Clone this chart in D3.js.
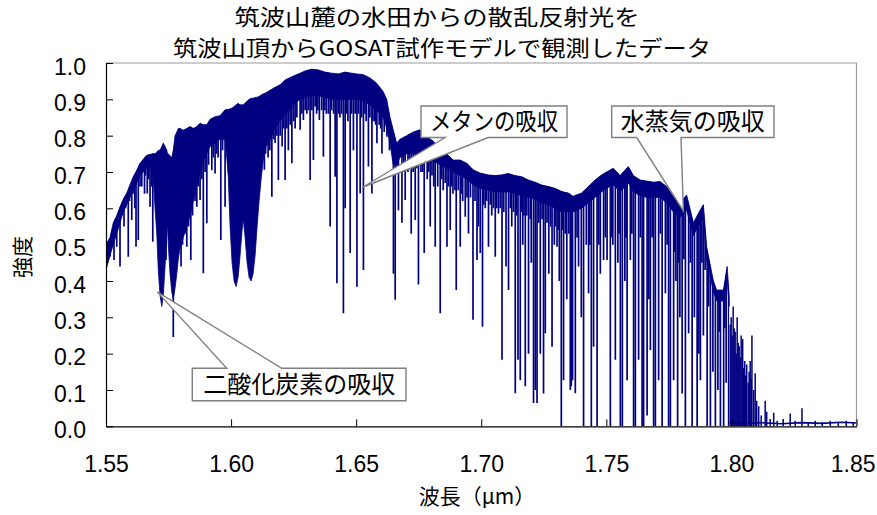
<!DOCTYPE html>
<html>
<head>
<meta charset="utf-8">
<script src="https://cdn.jsdelivr.net/npm/d3@7"></script>
<style>
  body { margin: 0; background: #fff; }
  svg { display: block; }
  .num { font-family: "Liberation Sans", Arial, sans-serif; }
  .jp { font-family: "Noto Sans CJK JP", "Noto Sans CJK SC", sans-serif; }
</style>
</head>
<body>
<svg id="chart" width="877" height="515"></svg>
<script>
// ---------- data ----------
const xTicks = [1.55, 1.60, 1.65, 1.70, 1.75, 1.80, 1.85];
const yTicks = [0, 0.1, 0.2, 0.3, 0.4, 0.5, 0.6, 0.7, 0.8, 0.9, 1.0];

// upper envelope of the spectrum and the lower edge of its dense band: [wavelength µm, top, band bottom]
const envelope = [
  [1.5500,0.500,0.43],[1.5516,0.520,0.47],[1.5529,0.560,0.50],[1.5543,0.580,0.53],
  [1.5556,0.604,0.56],[1.5569,0.625,0.59],[1.5583,0.642,0.61],[1.5596,0.665,0.63],
  [1.5609,0.687,0.65],[1.5623,0.705,0.67],[1.5636,0.724,0.69],[1.5649,0.735,0.70],
  [1.5663,0.746,0.71],[1.5676,0.748,0.72],[1.5689,0.751,0.69],[1.5696,0.750,0.60],
  [1.5703,0.755,0.53],[1.5709,0.760,0.43],[1.5716,0.760,0.36],[1.5723,0.770,0.33],
  [1.5729,0.780,0.36],[1.5736,0.770,0.44],[1.5743,0.760,0.52],[1.5746,0.750,0.56],
  [1.5749,0.750,0.50],[1.5756,0.745,0.42],[1.5763,0.740,0.37],[1.5769,0.760,0.35],
  [1.5776,0.800,0.38],[1.5783,0.810,0.42],[1.5789,0.820,0.46],[1.5796,0.820,0.49],
  [1.5809,0.815,0.52],[1.5823,0.820,0.55],[1.5836,0.825,0.58],[1.5849,0.820,0.62],
  [1.5863,0.825,0.66],[1.5876,0.834,0.70],[1.5889,0.830,0.73],[1.5903,0.830,0.75],
  [1.5916,0.845,0.77],[1.5936,0.852,0.78],[1.5956,0.855,0.79],[1.5976,0.871,0.79],
  [1.5988,0.872,0.70],[1.5996,0.874,0.55],[1.6004,0.876,0.45],[1.6012,0.880,0.40],
  [1.6020,0.885,0.385],[1.6028,0.889,0.41],[1.6036,0.885,0.47],[1.6044,0.885,0.54],
  [1.6049,0.885,0.57],[1.6056,0.890,0.52],[1.6064,0.895,0.45],[1.6072,0.900,0.41],
  [1.6080,0.903,0.40],[1.6088,0.903,0.42],[1.6096,0.905,0.47],[1.6104,0.906,0.55],
  [1.6112,0.908,0.62],[1.6120,0.912,0.68],[1.6128,0.915,0.73],[1.6140,0.918,0.77],
  [1.6156,0.925,0.79],[1.6176,0.933,0.82],[1.6196,0.940,0.84],[1.6216,0.953,0.86],
  [1.6236,0.960,0.87],[1.6256,0.966,0.89],[1.6276,0.972,0.90],[1.6296,0.978,0.905],
  [1.6322,0.983,0.91],[1.6349,0.981,0.91],[1.6375,0.975,0.905],[1.6402,0.972,0.90],
  [1.6429,0.970,0.90],[1.6455,0.975,0.90],[1.6482,0.972,0.90],[1.6502,0.970,0.90],
  [1.6528,0.968,0.895],[1.6555,0.959,0.885],[1.6582,0.944,0.87],[1.6608,0.921,0.85],
  [1.6622,0.900,0.82],[1.6635,0.852,0.78],[1.6648,0.816,0.72],[1.6662,0.779,0.72],
  [1.6675,0.790,0.74],[1.6702,0.800,0.75],[1.6728,0.810,0.75],[1.6755,0.816,0.75],
  [1.6782,0.797,0.74],[1.6808,0.785,0.73],[1.6835,0.760,0.72],[1.6862,0.750,0.71],
  [1.6888,0.733,0.70],[1.6915,0.733,0.69],[1.6942,0.724,0.68],[1.6968,0.706,0.665],
  [1.6995,0.697,0.655],[1.7028,0.692,0.65],[1.7055,0.690,0.645],[1.7082,0.692,0.645],
  [1.7108,0.696,0.645],[1.7135,0.690,0.64],[1.7162,0.687,0.635],[1.7188,0.678,0.63],
  [1.7215,0.672,0.625],[1.7242,0.664,0.615],[1.7268,0.660,0.61],[1.7295,0.655,0.60],
  [1.7322,0.646,0.59],[1.7348,0.642,0.59],[1.7367,0.633,0.59],[1.7401,0.642,0.60],
  [1.7428,0.660,0.615],[1.7455,0.678,0.63],[1.7481,0.692,0.645],[1.7501,0.700,0.655],
  [1.7528,0.710,0.665],[1.7555,0.690,0.645],[1.7588,0.715,0.67],[1.7608,0.690,0.645],
  [1.7635,0.678,0.635],[1.7661,0.675,0.63],[1.7688,0.672,0.63],[1.7714,0.674,0.63],
  [1.7741,0.660,0.615],[1.7768,0.632,0.59],[1.7794,0.614,0.575],[1.7821,0.637,0.595],
  [1.7848,0.560,0.525],[1.7875,0.595,0.56],[1.7888,0.610,0.575],[1.7901,0.494,0.46],
  [1.7928,0.400,0.37],[1.7941,0.375,0.345],[1.7968,0.375,0.345],[1.7983,0.440,0.40],
  [1.7991,0.360,0.33]
];

// individual absorption lines: [wavelength µm, minimum intensity]
const absorptionLines = [
  // 1.55 – 1.57
  [1.5505,0.458],[1.5511,0.500],[1.5516,0.467],[1.5522,0.520],[1.5532,0.458],[1.5537,0.540],
  [1.5543,0.494],[1.5549,0.550],[1.5556,0.440],[1.5562,0.580],[1.5572,0.550],[1.5578,0.600],
  [1.5589,0.467],[1.5594,0.620],[1.5603,0.568],[1.5608,0.640],[1.5615,0.600],[1.5620,0.494],
  [1.5629,0.513],[1.5636,0.660],[1.5643,0.660],[1.5654,0.640],[1.5658,0.690],[1.5665,0.641],
  [1.5671,0.680],[1.5676,0.604],[1.5682,0.660],[1.5687,0.508],
  // 1.57 – 1.60 (CO2)
  [1.5740,0.458],[1.5769,0.246],[1.5800,0.440],[1.5806,0.500],[1.5816,0.530],[1.5823,0.494],
  [1.5830,0.550],[1.5839,0.458],[1.5846,0.580],[1.5856,0.620],[1.5863,0.604],[1.5870,0.660],
  [1.5876,0.623],[1.5883,0.680],[1.5889,0.421],[1.5896,0.700],[1.5903,0.559],[1.5910,0.720],
  [1.5923,0.705],[1.5929,0.740],[1.5936,0.696],[1.5942,0.750],[1.5948,0.740],[1.5959,0.513],
  [1.5966,0.760],[1.5976,0.604],[1.5982,0.760],[1.5989,0.696],
  // 1.61 – 1.665
  [1.6133,0.706],[1.6138,0.750],[1.6148,0.740],[1.6155,0.760],[1.6163,0.632],[1.6170,0.790],
  [1.6176,0.780],[1.6183,0.800],[1.6189,0.678],[1.6196,0.800],[1.6204,0.770],[1.6210,0.820],
  [1.6216,0.678],[1.6223,0.820],[1.6229,0.760],[1.6236,0.830],[1.6243,0.724],[1.6250,0.840],
  [1.6256,0.820],[1.6263,0.850],[1.6276,0.816],[1.6283,0.860],[1.6289,0.843],[1.6296,0.870],
  [1.6303,0.860],[1.6310,0.870],[1.6316,0.678],[1.6323,0.870],[1.6329,0.733],[1.6336,0.880],
  [1.6342,0.860],[1.6347,0.870],[1.6353,0.843],[1.6362,0.870],[1.6369,0.742],[1.6375,0.870],
  [1.6381,0.860],[1.6389,0.860],[1.6396,0.550],[1.6402,0.870],[1.6410,0.860],[1.6416,0.687],
  [1.6423,0.394],[1.6429,0.860],[1.6435,0.850],[1.6442,0.860],[1.6449,0.311],[1.6456,0.600],
  [1.6462,0.860],[1.6467,0.840],[1.6476,0.477],[1.6482,0.860],[1.6489,0.760],[1.6496,0.860],
  [1.6503,0.384],[1.6509,0.860],[1.6516,0.641],[1.6522,0.850],[1.6529,0.430],[1.6535,0.860],
  [1.6540,0.840],[1.6549,0.715],[1.6555,0.850],[1.6563,0.641],[1.6566,0.840],[1.6572,0.840],
  [1.6578,0.830],[1.6583,0.779],[1.6592,0.830],[1.6598,0.820],[1.6603,0.751],[1.6612,0.810],
  [1.6623,0.797],[1.6633,0.760],[1.6649,0.420],[1.6656,0.348],
  // 1.665 – 1.735 (CH4)
  [1.6663,0.700],[1.6669,0.595],[1.6683,0.560],[1.6690,0.700],[1.6696,0.623],[1.6707,0.700],
  [1.6713,0.710],[1.6720,0.530],[1.6728,0.700],[1.6736,0.568],[1.6742,0.710],[1.6749,0.390],
  [1.6759,0.700],[1.6766,0.700],[1.6772,0.477],[1.6784,0.680],[1.6790,0.700],[1.6796,0.550],
  [1.6803,0.690],[1.6810,0.660],[1.6816,0.494],[1.6826,0.660],[1.6836,0.311],[1.6842,0.680],
  [1.6848,0.650],[1.6856,0.670],[1.6863,0.494],[1.6869,0.660],[1.6876,0.540],[1.6882,0.660],
  [1.6887,0.640],[1.6895,0.650],[1.6900,0.375],[1.6908,0.650],[1.6916,0.494],[1.6922,0.640],
  [1.6926,0.620],[1.6936,0.577],[1.6943,0.630],[1.6949,0.531],[1.6957,0.630],[1.6967,0.293],
  [1.6975,0.620],[1.6983,0.458],[1.6989,0.550],[1.6996,0.477],[1.7005,0.274],[1.7010,0.610],
  [1.7016,0.600],[1.7022,0.620],[1.7029,0.494],[1.7036,0.610],[1.7042,0.580],[1.7049,0.600],
  [1.7056,0.467],[1.7062,0.600],[1.7069,0.586],[1.7076,0.600],[1.7083,0.183],[1.7090,0.590],
  [1.7099,0.440],[1.7109,0.375],[1.7116,0.600],[1.7122,0.550],[1.7129,0.590],[1.7136,0.091],
  [1.7142,0.580],[1.7147,0.183],[1.7156,0.127],[1.7161,0.590],[1.7166,0.500],[1.7171,0.580],
  [1.7176,0.110],[1.7182,0.580],[1.7189,0.200],[1.7196,0.570],[1.7200,0.450],[1.7209,0.064],
  [1.7216,0.100],[1.7223,0.064],[1.7230,0.560],[1.7236,0.200],[1.7243,0.570],[1.7249,0.090],
  [1.7256,0.256],[1.7263,0.560],[1.7270,0.420],[1.7277,0.550],[1.7283,0.219],[1.7292,0.500],
  [1.7297,0.550],[1.7303,0.494],[1.7307,0.540],[1.7312,0.400],[1.7320,0.000],[1.7326,0.540],
  [1.7329,0.127],[1.7336,0.530],[1.7342,0.350],[1.7350,0.530],
  // 1.735 – 1.80 (H2O)
  [1.7356,0.100],[1.7360,0.110],[1.7365,0.127],[1.7376,0.091],[1.7383,0.520],[1.7389,0.440],
  [1.7400,0.300],[1.7409,0.000],[1.7420,0.500],[1.7429,0.366],
  [1.7434,0.500],[1.7440,0.000],[1.7449,0.219],[1.7463,0.000],[1.7470,0.500],
  [1.7476,0.420],[1.7489,0.458],[1.7496,0.520],[1.7503,0.458],
  [1.7516,0.000],[1.7521,0.520],[1.7526,0.500],[1.7536,0.183],[1.7546,0.450],
  [1.7551,0.530],[1.7556,0.000],[1.7564,0.000],[1.7574,0.400],[1.7579,0.520],
  [1.7583,0.127],[1.7596,0.458],[1.7602,0.530],[1.7609,0.000],[1.7616,0.000],
  [1.7629,0.183],[1.7636,0.520],[1.7643,0.000],[1.7649,0.000],
  [1.7663,0.030],[1.7670,0.350],[1.7676,0.210],[1.7683,0.520],[1.7689,0.000],[1.7696,0.000],
  [1.7709,0.127],[1.7716,0.530],[1.7723,0.000],[1.7736,0.366],
  [1.7743,0.500],[1.7749,0.000],[1.7756,0.000],[1.7769,0.127],[1.7773,0.480],
  [1.7778,0.400],[1.7785,0.000],[1.7790,0.450],[1.7794,0.300],[1.7803,0.090],
  [1.7810,0.460],[1.7816,0.000],[1.7829,0.256],[1.7836,0.450],[1.7843,0.000],
  [1.7852,0.300],[1.7863,0.000],[1.7870,0.200],[1.7876,0.127],[1.7882,0.450],
  [1.7888,0.250],[1.7895,0.430],[1.7903,0.000],[1.7909,0.330],[1.7916,0.000],
  [1.7926,0.150],[1.7936,0.000],[1.7946,0.100],[1.7951,0.260],[1.7956,0.000],
  [1.7969,0.000],[1.7974,0.270],[1.7979,0.120],[1.7989,0.000]
];

// beyond 1.80 µm almost nothing comes through: residual peaks [wavelength µm, intensity]
const tailPeaks = [
  [1.7995,0.280],[1.7999,0.300],[1.8003,0.250],[1.8007,0.330],[1.8011,0.270],[1.8015,0.260],
  [1.8019,0.200],[1.8023,0.300],[1.8027,0.230],[1.8031,0.220],[1.8035,0.190],[1.8039,0.250],
  [1.8045,0.240],[1.8049,0.160],[1.8053,0.180],[1.8057,0.140],[1.8061,0.170],[1.8067,0.120],
  [1.8071,0.150],[1.8075,0.180],[1.8079,0.130],[1.8082,0.250],[1.8089,0.100],[1.8095,0.146],
  [1.8101,0.070],[1.8109,0.055],[1.8119,0.030],[1.8135,0.070],[1.8141,0.040],[1.8155,0.020],
  [1.8169,0.037],[1.8183,0.015],[1.8207,0.020],[1.8235,0.035],[1.8255,0.015],[1.8282,0.050],
  [1.8307,0.012],[1.8335,0.015],[1.8363,0.012],[1.8395,0.015],[1.8427,0.012],[1.8459,0.015],
  [1.8487,0.012]
];
// residual floor of the saturated region
const tailFloor = [
  [1.7991,0.010],[1.8060,0.008],[1.8120,0.010],[1.8200,0.007],[1.8280,0.010],
  [1.8360,0.008],[1.8440,0.011],[1.8500,0.009]
];

const titleLines = ["筑波山麓の水田からの散乱反射光を", "筑波山頂からGOSAT試作モデルで観測したデータ"];
const calloutLabels = ["メタンの吸収", "水蒸気の吸収", "二酸化炭素の吸収"];
// spectral features the callouts point at: [wavelength µm, intensity]
const calloutTargets = [[1.6526, 0.658], [1.7808, 0.593], [1.5705, 0.370]];

// ---------- layout ----------
const plot = { left: 106, right: 856.5, top: 63, bottom: 426.3 };
const navy = "#000080";

const svg = d3.select("#chart");
const x = d3.scaleLinear().domain([1.55, 1.85]).range([plot.left, plot.right]);
const y = d3.scaleLinear().domain([0, 1]).range([plot.bottom, plot.top]);

// plot frame (top and right edges)
svg.append("path")
  .attr("d", `M${plot.left},${plot.top}H${plot.right}V${plot.bottom}`)
  .attr("fill", "none").attr("stroke", "#9a9a9a").attr("stroke-width", 1.2);

// clip: everything under the upper envelope, inside the plot
const defs = svg.append("defs");
defs.append("clipPath").attr("id", "underTop")
  .append("path")
  .attr("d", d3.area().x(d => x(d[0])).y0(y(0)).y1(d => y(d[1]))(envelope));
defs.append("clipPath").attr("id", "plotArea")
  .append("rect").attr("x", plot.left).attr("y", plot.top)
  .attr("width", plot.right - plot.left).attr("height", plot.bottom - plot.top);

const spec = svg.append("g").attr("clip-path", "url(#plotArea)");

// dense band of unresolved lines
spec.append("path")
  .attr("d", d3.area().x(d => x(d[0])).y0(d => y(d[2])).y1(d => y(d[1]))(envelope))
  .attr("fill", navy).attr("stroke", navy).attr("stroke-width", 0.8);

// resolved absorption lines hanging from the envelope
spec.append("g").attr("clip-path", "url(#underTop)")
  .selectAll("line").data(absorptionLines).join("line")
  .attr("x1", d => x(d[0])).attr("x2", d => x(d[0]))
  .attr("y1", d => y(d[1])).attr("y2", y(1))
  .attr("stroke", navy).attr("stroke-width", 1.7);

// saturated region
spec.append("path")
  .attr("d", d3.line().x(d => x(d[0])).y(d => y(d[1]))(tailFloor))
  .attr("fill", "none").attr("stroke", navy).attr("stroke-width", 1.6);
spec.append("g").selectAll("line").data(tailPeaks).join("line")
  .attr("x1", d => x(d[0])).attr("x2", d => x(d[0]))
  .attr("y1", y(0)).attr("y2", d => y(d[1]))
  .attr("stroke", navy).attr("stroke-width", 1.5);

// axes
const xAxis = svg.append("g").attr("transform", `translate(0,${plot.bottom})`)
  .call(d3.axisBottom(x).tickValues(xTicks).tickFormat(d3.format(".2f"))
    .tickSize(-7).tickSizeOuter(0).tickPadding(29));
const yAxis = svg.append("g").attr("transform", `translate(${plot.left},0)`)
  .call(d3.axisLeft(y).tickValues(yTicks).tickFormat(d3.format(".1f"))
    .tickSize(-7).tickSizeOuter(0).tickPadding(20));
[xAxis, yAxis].forEach(a => {
  a.select(".domain").attr("stroke", "#000").attr("stroke-width", 1.2);
  a.selectAll(".tick line").attr("stroke", "#000");
  a.selectAll("text").attr("class", "num").attr("font-size", 23).attr("fill", "#000")
    .attr("font-family", null);
});
yAxis.selectAll("text").attr("dy", "0.48em");
// keep the last label inside the chart
xAxis.selectAll(".tick").filter(d => d === 1.85).select("text")
  .attr("text-anchor", "end").attr("x", 875 - plot.right);

// two-line title, stretched to the chart's title width
const titleRows = [{ x: 437, y: 25, w: 405 }, { x: 442, y: 56, w: 538 }];
svg.append("g").attr("class", "jp").attr("text-anchor", "middle")
  .attr("font-size", 21.5).attr("fill", "#000")
  .selectAll("text").data(titleLines).join("text")
  .attr("x", (d, i) => titleRows[i].x).attr("y", (d, i) => titleRows[i].y)
  .attr("textLength", (d, i) => titleRows[i].w).attr("lengthAdjust", "spacingAndGlyphs")
  .text(d => d);

svg.append("text").attr("class", "jp").attr("text-anchor", "middle")
  .attr("x", 477).attr("y", 504).attr("font-size", 21).attr("fill", "#000")
  .text("波長（μm）");
svg.append("text").attr("class", "jp").attr("text-anchor", "middle")
  .attr("transform", "translate(30,257) rotate(-90)")
  .attr("font-size", 21).attr("fill", "#000").text("強度");

// callouts: box position in pixels, wedge base on one edge, tip on the feature
const calloutBoxes = [
  { x0: 421,   x1: 567, y0: 106,   y1: 137.5, b0: 445,   b1: 488,   side: "bottom", fit: 128 },
  { x0: 611.7, x1: 774, y0: 106,   y1: 137.5, b0: 636.7, b1: 681,   side: "bottom", fit: null },
  { x0: 192.3, x1: 406, y0: 368.3, y1: 400.7, b0: 226.7, b1: 281.7, side: "top",    fit: null }
];
const notes = svg.append("g");
calloutBoxes.forEach((b, i) => {
  const tx = x(calloutTargets[i][0]), ty = y(calloutTargets[i][1]);
  const p = d3.path();
  if (b.side === "bottom") {
    p.moveTo(b.x0, b.y0); p.lineTo(b.x1, b.y0); p.lineTo(b.x1, b.y1);
    p.lineTo(b.b1, b.y1); p.lineTo(tx, ty); p.lineTo(b.b0, b.y1); p.lineTo(b.x0, b.y1);
  } else {
    p.moveTo(b.x0, b.y0); p.lineTo(b.b0, b.y0); p.lineTo(tx, ty); p.lineTo(b.b1, b.y0);
    p.lineTo(b.x1, b.y0); p.lineTo(b.x1, b.y1); p.lineTo(b.x0, b.y1);
  }
  p.closePath();
  notes.append("path").attr("d", p.toString())
    .attr("fill", "#fff").attr("stroke", "#7f7f7f").attr("stroke-width", 1.4)
    .attr("stroke-linejoin", "miter");
  const t = notes.append("text").attr("class", "jp").attr("text-anchor", "middle")
    .attr("x", (b.x0 + b.x1) / 2).attr("y", (b.y0 + b.y1) / 2)
    .attr("dy", "0.36em").attr("font-size", 24).attr("fill", "#000")
    .text(calloutLabels[i]);
  if (b.fit) t.attr("textLength", b.fit).attr("lengthAdjust", "spacingAndGlyphs");
});
</script>
</body>
</html>
